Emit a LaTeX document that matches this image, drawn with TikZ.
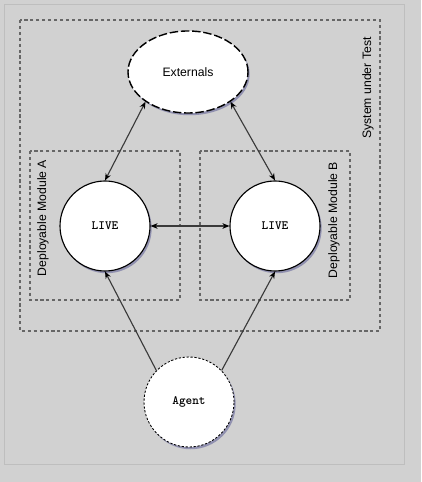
\documentclass[tikz,border=0pt]{standalone}
\usepackage{fontspec}
\setmainfont{Liberation Sans}
\usetikzlibrary{arrows.meta,shadows,shapes.geometric}
\definecolor{bggray}{HTML}{D1D1D1}
\definecolor{rimgray}{HTML}{BEBEBE}
\definecolor{boxgray}{HTML}{666666}
\definecolor{linkgray}{HTML}{3A3A3A}
\begin{document}
\begin{tikzpicture}[
		every node/.style={font=\fontsize{8.7}{10}\selectfont},
		groupbox/.style={draw=boxgray, line width=1.1pt, dash pattern=on 2.2pt off 2pt},
		grouplabel/.style={rotate=90},
		softshadow/.style={drop shadow={shadow xshift=1.2pt, shadow yshift=-1.6pt, opacity=0.3, fill=black!60!blue}},
		livenode/.style={circle, draw, fill=white, thick, minimum size=2.25cm, inner sep=0pt, softshadow, font=\ttfamily\bfseries\fontsize{9}{10}\selectfont},
		link/.style={draw=linkgray, thick, {Stealth[length=5pt,width=4pt,black]}-{Stealth[length=5pt,width=4pt,black]}}
	]
		% Background and frame
		\useasboundingbox (0,0) rectangle (10.525,-12.05);
		\fill[bggray] (0,0) rectangle (10.525,-12.05);
		\draw[rimgray, line width=0.6pt] (0.1,-0.1) rectangle (10.1,-11.6);
		% System under test
		\draw[groupbox] (0.5,-0.5) rectangle (9.5,-8.275);
		\node[grouplabel] (sutlabel) at (9.2,-2.2) {System under Test};
		% Deployable modules
		\draw[groupbox] (0.75,-3.775) rectangle (4.5,-7.5);
		\node[grouplabel] (modAlabel) at (1.075,-5.45) {Deployable Module A};
		\draw[groupbox] (5,-3.775) rectangle (8.75,-7.5);
		\node[grouplabel] (modBlabel) at (8.35,-5.5) {Deployable Module B};
		% Nodes
		\node[ellipse, draw, fill=white, line width=1pt, dash pattern=on 6pt off 2pt, minimum width=3cm, minimum height=2.05cm, inner sep=0pt, softshadow] (ext) at (4.7,-1.8) {Externals};
		\node[livenode] (liveA) at (2.625,-5.65) {LIVE};
		\node[livenode] (liveB) at (6.875,-5.65) {LIVE};
		\node[livenode, line width=0.6pt, dash pattern=on 1.6pt off 1.2pt] (agent) at (4.725,-10.05) {Agent};
		% Connections
		\draw[link] (ext.215) -- (liveA.north);
		\draw[link] (ext.325) -- (liveB.north);
		\draw[link] (liveA.east) -- (liveB.west);
		\draw[link, -{Stealth[length=5pt,width=4pt,black]}] (agent.136) -- (liveA.south);
		\draw[link, -{Stealth[length=5pt,width=4pt,black]}] (agent.44) -- (liveB.south);
	\end{tikzpicture}
\end{document}
